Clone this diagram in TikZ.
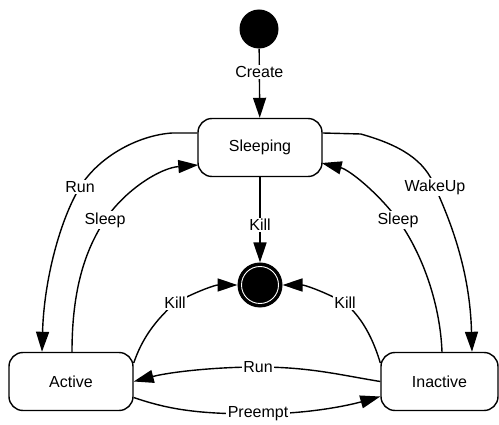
\documentclass[tikz,border=0pt]{standalone}
\usepackage{fontspec}
\setmainfont{Liberation Sans}
\usetikzlibrary{arrows.meta}
\tikzset{
  state/.style={draw, line width=1.4pt, rounded corners=14pt, minimum width=124pt,
                minimum height=58pt, inner sep=0pt, font=\fontsize{16pt}{19pt}\selectfont},
  lbl/.style={fill=white, inner sep=1.5pt, font=\fontsize{16pt}{19pt}\selectfont},
  arr/.style={line width=1.4pt, -{Triangle[length=20pt,width=13pt]}},
}
\begin{document}
\begin{tikzpicture}[x=1pt,y=-1pt]
\useasboundingbox (0,0) rectangle (499,425);

% states
\node[circle, fill=black, minimum size=39pt, inner sep=0pt] (start) at (259,29) {};
\node[state] (sleeping) at (260,147.5) {Sleeping};
\node[state] (active) at (71,381.5) {Active};
\node[state, minimum width=117pt] (inactive) at (439.5,381.5) {Inactive};
\node[circle, draw, line width=1pt, fill=black, minimum size=44pt, inner sep=0pt] (final) at (260,285) {};
\draw[white, line width=0.9pt] (final.center) circle (18.5pt);

% transitions
\draw[arr] (start) -- node[lbl, pos=0.34] {Create} (sleeping);
\draw[arr] (sleeping) -- node[lbl, pos=0.56] {Kill} (final);

\draw[arr] ([yshift=14.5pt]sleeping.west) -- ++(-25,0)
  .. controls (140,135) and (100,155) .. (80,187) node[lbl] {Run}
  .. controls (60,220) and (44,280) .. ([xshift=-29pt]active.north);

\draw[arr] ([xshift=1pt]active.north)
  .. controls (72,290) and (85,250) .. (105,220) node[lbl] {Sleep}
  .. controls (125,190) and (160,168) .. ([yshift=-17.5pt,xshift=1pt]sleeping.west);

\draw[arr] ([yshift=14.5pt]sleeping.east) -- ++(38,1)
  .. controls (400,145) and (425,160) .. (435,187) node[lbl] {WakeUp}
  .. controls (450,220) and (470,270) .. ([xshift=32.5pt]inactive.north);

\draw[arr] ([xshift=2.5pt]inactive.north)
  .. controls (440,300) and (420,250) .. (398,220) node[lbl] {Sleep}
  .. controls (380,195) and (350,170) .. ([yshift=-15.5pt,xshift=-1pt]sleeping.east);

\draw[arr] ([yshift=18.5pt]active.east)
  .. controls (140,345) and (150,325) .. (175,303) node[lbl] {Kill}
  .. controls (195,292) and (215,285) .. (final.west);

\draw[arr] ([yshift=18.5pt]inactive.west)
  .. controls (375,345) and (365,320) .. (345,303) node[lbl] {Kill}
  .. controls (325,292) and (305,285) .. (final.east);

\draw[arr] (inactive.west)
  .. controls (340,375) and (310,367) .. (258,367) node[lbl] {Run}
  .. controls (215,367) and (170,372) .. (active.east);

\draw[arr] ([yshift=-16pt]active.east)
  .. controls (170,410) and (200,414) .. (258,414) node[lbl] {Preempt}
  .. controls (310,414) and (350,405) .. ([yshift=-15pt]inactive.west);
\end{tikzpicture}
\end{document}
